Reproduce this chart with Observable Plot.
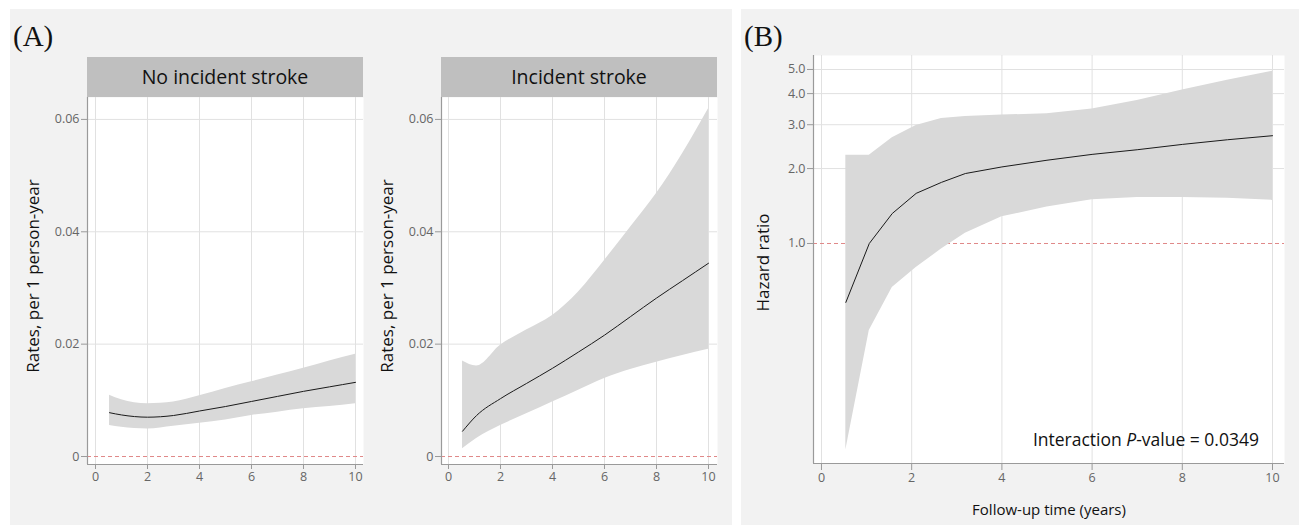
<!DOCTYPE html>
<html>
<head>
<meta charset="utf-8">
<script src="https://cdn.jsdelivr.net/npm/d3@7"></script>
<script src="https://cdn.jsdelivr.net/npm/@observablehq/plot@0.6"></script>
<style>
  html, body { margin: 0; padding: 0; background: #ffffff; }
  #page { position: relative; width: 1299px; height: 525px; overflow: hidden; background: #ffffff; font-family: "Open Sans", Lato, sans-serif; }
  .panel { position: absolute; background: #f2f2f2; }
  .tag { position: absolute; font-family: "Liberation Serif", "DejaVu Serif", serif; font-size: 29px; line-height: 1; color: #111; }
  .strip { position: absolute; background: #bfbfbf; color: #111; font-size: 19.5px; text-align: center; height: 40px; line-height: 40px; }
  .abs { position: absolute; }
  .note { position: absolute; font-size: 17.5px; color: #111; text-align: right; line-height: 22px; white-space: nowrap; }
</style>
</head>
<body>
<div id="page">
  <div class="panel" style="left:10px;top:9px;width:722px;height:516px;"></div>
  <div class="panel" style="left:741px;top:9px;width:558px;height:516px;"></div>
  <div class="tag" style="left:13px;top:22px;">(A)</div>
  <div class="tag" style="left:744px;top:22px;">(B)</div>
  <div class="strip" id="s1" style="left:87px;top:57px;width:276px;"></div>
  <div class="strip" id="s2" style="left:441px;top:57px;width:276px;"></div>
  <div id="pA1" class="abs" style="left:0px;top:97px;"></div>
  <div id="pA2" class="abs" style="left:370px;top:97px;"></div>
  <div id="pB" class="abs" style="left:741px;top:9px;"></div>
  <div class="note" style="left:900px;top:428px;width:359px;">Interaction <i>P</i>-value = 0.0349</div>
</div>
<script>
// ---- Panel A: No incident stroke ----
const noStrokeTime = [0.54, 1, 2, 3, 4, 5, 6, 7, 8, 9, 10];
const noStrokeRate = [0.0078, 0.0074, 0.0070, 0.0073, 0.0081, 0.0089, 0.0098, 0.0107, 0.0116, 0.0124, 0.0132];
const noStrokeLow  = [0.0055, 0.0052, 0.0049, 0.0054, 0.0059, 0.0065, 0.0073, 0.0079, 0.0085, 0.0089, 0.0094];
const noStrokeHigh = [0.0109, 0.0101, 0.0094, 0.0097, 0.0108, 0.0121, 0.0133, 0.0145, 0.0157, 0.0170, 0.0182];

// ---- Panel A: Incident stroke ----
const strokeTime = [0.54, 1.08, 2, 3, 4, 5, 6, 7, 8, 9, 10];
const strokeRate = [0.0045, 0.0073, 0.0103, 0.0130, 0.0157, 0.0186, 0.0216, 0.0249, 0.0282, 0.0313, 0.0344];
const strokeLow  = [0.0014, 0.0032, 0.0055, 0.0076, 0.0097, 0.0118, 0.0139, 0.0155, 0.0168, 0.0180, 0.0191];
const strokeHigh = [0.0170, 0.0161, 0.0198, 0.0225, 0.0251, 0.0293, 0.0349, 0.0408, 0.0468, 0.0539, 0.0619];

// ---- Panel B: Hazard ratio ----
const hrTime = [0.54, 1.06, 1.57, 2.10, 2.66, 3.19, 4, 5, 6, 7, 8, 9, 10];
const hrEst  = [0.58, 1.00, 1.32, 1.59, 1.76, 1.91, 2.03, 2.16, 2.28, 2.38, 2.50, 2.61, 2.71];
const hrLow  = [0.148, 0.447, 0.665, 0.80, 0.95, 1.10, 1.28, 1.40, 1.50, 1.53, 1.53, 1.52, 1.49];
const hrHigh = [2.26, 2.26, 2.66, 2.98, 3.18, 3.24, 3.28, 3.32, 3.47, 3.75, 4.14, 4.53, 4.92];

// ---- Tick labels / axis text ----
const xTicks = [0, 2, 4, 6, 8, 10];
const rateTicks = [0, 0.02, 0.04, 0.06];
const hrTicks = [1, 2, 3, 4, 5];
const stripLabels = ["No incident stroke", "Incident stroke"];
const rateLabel = "Rates, per 1 person-year";
const hrLabel = "Hazard ratio";
const timeLabel = "Follow-up time (years)";

document.getElementById("s1").textContent = stripLabels[0];
document.getElementById("s2").textContent = stripLabels[1];

const toRows = (t, e, lo, hi) => t.map((x, i) => ({t: x, est: e[i], lo: lo[i], hi: hi[i]}));

const GRID = "#e1e1e1", AXIS = "#9a9a9a", TICKTXT = "#666666", BAND = "#d9d9d9", REF = "#e08888";
const baseStyle = {fontFamily: "'Open Sans', Lato, sans-serif", fontSize: "12.5px", background: "transparent", overflow: "visible"};

function rateFacet(rows, width, marginLeft, xDomain) {
  const yDomain = [-0.00142, 0.0639];
  return Plot.plot({
    width, height: 428,
    marginLeft, marginRight: 7, marginTop: 0, marginBottom: 61,
    style: baseStyle,
    x: {domain: xDomain},
    y: {domain: yDomain},
    marks: [
      Plot.frame({fill: "white", stroke: "none"}),
      Plot.ruleX(xTicks, {stroke: GRID}),
      Plot.ruleY(rateTicks.filter(d => d !== 0), {stroke: GRID}),
      Plot.ruleY([0], {stroke: REF, strokeDasharray: "4,3"}),
      Plot.areaY(rows, {x: "t", y1: "lo", y2: "hi", fill: BAND, curve: "monotone-x"}),
      Plot.lineY(rows, {x: "t", y: "est", stroke: "#1a1a1a", strokeWidth: 1, curve: "monotone-x"}),
      Plot.ruleX([xDomain[0]], {stroke: AXIS, strokeWidth: 1.2}),
      Plot.ruleY([yDomain[0]], {stroke: AXIS, strokeWidth: 1.2}),
      Plot.axisX(xTicks, {tickSize: 5, tickPadding: 3, stroke: AXIS, color: TICKTXT, label: null}),
      Plot.axisY(rateTicks, {tickSize: 6, tickPadding: 2, stroke: AXIS, color: TICKTXT, label: null,
        tickFormat: d => d === 0 ? "0" : d3.format(".2f")(d)}),
      Plot.text([rateLabel], {text: d => d, frameAnchor: "left", textAnchor: "middle", lineAnchor: "middle",
        rotate: -90, dx: -54, dy: -5, fontSize: 17, fill: "#111"})
    ]
  });
}

document.getElementById("pA1").append(
  rateFacet(toRows(noStrokeTime, noStrokeRate, noStrokeLow, noStrokeHigh), 370, 87, [-0.308, 10.308]));
document.getElementById("pA2").append(
  rateFacet(toRows(strokeTime, strokeRate, strokeLow, strokeHigh), 354, 71, [-0.269, 10.346]));

const hrRows = toRows(hrTime, hrEst, hrLow, hrHigh);
const hrX = [-0.177, 10.266];
const hrY = [0.1307, 5.69];
document.getElementById("pB").append(Plot.plot({
  width: 558, height: 516,
  marginLeft: 72, marginRight: 15, marginTop: 46, marginBottom: 62,
  style: baseStyle,
  x: {domain: hrX},
  y: {type: "log", domain: hrY},
  marks: [
    Plot.frame({fill: "white", stroke: "none"}),
    Plot.ruleX(xTicks, {stroke: GRID}),
    Plot.ruleY(hrTicks.filter(d => d !== 1), {stroke: GRID}),
    Plot.ruleY([1], {stroke: REF, strokeDasharray: "4,3"}),
    Plot.areaY(hrRows, {x: "t", y1: "lo", y2: "hi", fill: BAND}),
    Plot.lineY(hrRows, {x: "t", y: "est", stroke: "#1a1a1a", strokeWidth: 1}),
    Plot.ruleX([hrX[0]], {stroke: AXIS, strokeWidth: 1.2}),
    Plot.ruleY([hrY[0]], {stroke: AXIS, strokeWidth: 1.2}),
    Plot.axisX(xTicks, {tickSize: 7, tickPadding: 3, stroke: AXIS, color: TICKTXT, label: null}),
    Plot.axisY(hrTicks, {tickSize: 6, tickPadding: 2, stroke: AXIS, color: TICKTXT, label: null,
      tickFormat: d3.format(".1f")}),
    Plot.text([hrLabel], {text: d => d, frameAnchor: "left", textAnchor: "middle", lineAnchor: "middle",
      rotate: -90, dx: -50, dy: 3, fontSize: 17, fill: "#111"}),
    Plot.text([timeLabel], {text: d => d, frameAnchor: "bottom", textAnchor: "middle", lineAnchor: "middle",
      dy: 47, fontSize: 15, fill: "#111"})
  ]
}));
</script>
</body>
</html>
